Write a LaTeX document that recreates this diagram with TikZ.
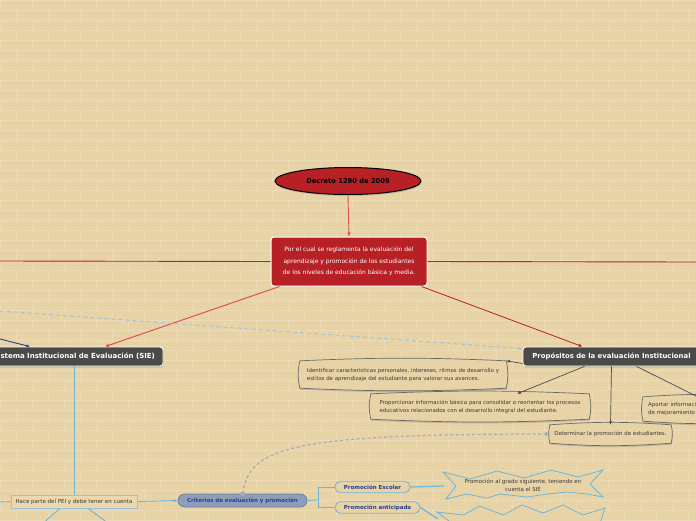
\documentclass[tikz,border=0pt]{standalone}
\usepackage{fontspec}
\setmainfont{DejaVu Sans}
\usetikzlibrary{shapes.geometric,shadows,arrows.meta}
\definecolor{bg}{HTML}{E8D3A7}
\definecolor{brick}{HTML}{EDDBB6}
\definecolor{dred}{HTML}{B72025}
\definecolor{lred}{HTML}{D9535A}
\definecolor{dgray}{HTML}{4A4A48}
\definecolor{lblue}{HTML}{6DB6DA}
\definecolor{dblue}{HTML}{2A3F8F}
\definecolor{gblue}{HTML}{8E9EB8}
\definecolor{gbline}{HTML}{6F7F99}
\definecolor{dashc}{HTML}{9DC3DA}
\definecolor{gdashc}{HTML}{A3ADB8}
\definecolor{txt}{HTML}{3A3A3A}
\definecolor{boxline}{HTML}{6A6A66}
\definecolor{hacefill}{HTML}{EBD8AE}
\pgfdeclarelayer{bricks}
\pgfdeclarelayer{background}
\pgfsetlayers{bricks,background,main}
\tikzset{
  ellnode/.style={ellipse, fill=dred, draw=black, line width=1pt, minimum width=146pt, minimum height=27pt, inner sep=0pt, font=\fontsize{6.7}{7}\selectfont\bfseries, drop shadow={opacity=0.35, shadow xshift=0.5pt, shadow yshift=-1.5pt}},
  rednode/.style={rectangle, rounded corners=3pt, fill=dred, draw=white, line width=1pt, text=white, align=center, minimum width=156pt, minimum height=49pt, inner sep=0pt, font=\fontsize{6}{11.3}\selectfont},
  darknode/.style={rectangle, rounded corners=3pt, fill=dgray, draw=white, line width=0.8pt, text=white, minimum height=19pt, inner sep=0pt, drop shadow={opacity=0.35, shadow xshift=0.5pt, shadow yshift=-1.5pt}},
  purp/.style={rectangle, inner sep=0pt, align=left, text=txt, font=\fontsize{5.45}{8}\selectfont},
  wavy/.style={draw=boxline, line width=0.7pt, fill=bg, drop shadow={opacity=0.35, shadow xshift=0.5pt, shadow yshift=-1.5pt}},
  hacenode/.style={rectangle, fill=hacefill, draw=dashc, line width=0.8pt, minimum width=126pt, minimum height=13pt, inner sep=0pt, text=txt, font=\fontsize{5.5}{6}\selectfont, drop shadow={opacity=0.3, shadow xshift=0.5pt, shadow yshift=-1.2pt}},
  critnode/.style={rectangle, rounded corners=6.5pt, fill=gblue, draw=gbline, line width=0.7pt, minimum width=129pt, minimum height=13pt, inner sep=0pt, text=dblue, font=\fontsize{5.45}{6}\selectfont\bfseries},
  pillnode/.style={rectangle, rounded corners=5.5pt, draw=lblue, line width=0.8pt, fill=bg, minimum height=11.5pt, inner sep=0pt, text=dblue, font=\fontsize{5.5}{6}\selectfont\bfseries},
  zignode/.style={inner sep=0pt, align=center, text=txt, font=\fontsize{5.5}{8}\selectfont},
  redarrow/.style={-{Latex[length=4pt,width=3.5pt]}},
  smallarrow/.style={-{Latex[length=3.5pt,width=3pt]}},
}
\begin{document}
\begin{tikzpicture}[x=1pt,y=-1pt]
\useasboundingbox (0,0) rectangle (696,520);
\clip (0,0) rectangle (696,520);
\begin{pgfonlayer}{bricks}
  \fill[bg] (0,0) rectangle (696,520);
  \foreach \r in {0,...,52}{
    \draw[brick, line width=0.6pt] (0,\r*10) -- (696,\r*10);
    \pgfmathsetmacro{\off}{mod(\r,2)*16}
    \foreach \c in {0,...,22}{
      \draw[brick, line width=0.6pt] (\c*32+\off,\r*10) -- (\c*32+\off,\r*10+10);
    }
  }
\end{pgfonlayer}

% main nodes
\node[ellnode] (dec) at (348,181) {Decreto 1290 de 2009};
\node[rednode] (red) at (349,261.5) {Por el cual se reglamenta la evaluación del\\aprendizaje y promoción de los estudiantes\\de los niveles de educación básica y media.};
\node[darknode, minimum width=178pt, font=\fontsize{7}{7}\selectfont\bfseries] (sie) at (74,356.5) {Sistema Institucional de Evaluación (SIE)};
\node[darknode, minimum width=177pt, font=\fontsize{6.9}{7}\selectfont\bfseries] (prop) at (611.5,356.5) {Propósitos de la evaluación Institucional};

% purpose boxes
\node[purp, minimum width=206pt, minimum height=27pt] (id) at (403,374.5) {Identificar características personales, intereses, ritmos de desarrollo y\\estilos de aprendizaje del estudiante para valorar sus avances.};
\node[purp, minimum width=218pt, minimum height=25pt] (pr) at (480,406.5) {Proporcionar información básica para consolidar o reorientar los procesos\\educativos relacionados con el desarrollo integral del estudiante.};
\node[purp, minimum width=121pt, minimum height=18pt] (de) at (610.5,434) {Determinar la promoción de estudiantes.};
\node[purp, text width=110pt, inner xsep=5pt, minimum height=24pt, anchor=west] (ap) at (643,409) {Aportar información para el ajuste\\de mejoramiento institucional.};

\begin{pgfonlayer}{background}
  \foreach \n/\bt/\bs in {id/2.5/12, pr/2.5/12, de/4/12, ap/4/12}{
    \path[wavy] (\n.north west) to[bend left=\bt] (\n.north east) to[bend left=\bs] (\n.south east) to[bend left=\bt] (\n.south west) to[bend left=\bs] (\n.north west) -- cycle;
  }
\end{pgfonlayer}

% lower nodes
\node[hacenode] (hace) at (74,501.5) {Hace parte del PEI y debe tener en cuenta};
\node[critnode] (crit) at (242.5,500.5) {Criterios de evaluación y promoción};
\node[pillnode, minimum width=75pt] (pe) at (372.5,487) {Promoción Escolar};
\node[pillnode, minimum width=85pt] (pa) at (377.5,507.5) {Promoción anticipada};
\node[zignode] (z1) at (523,485) {Promoción al grado siguiente, teniendo en\\cuenta el SIE};

\begin{pgfonlayer}{background}
  \path[draw=lblue, line width=0.8pt, fill=bg] (443,472) -- (470,479) -- (497,471) -- (524,478) -- (551,470) -- (578,477) -- (603,470) -- (590,484) -- (603,497) -- (587,494) -- (567,492) -- (547,494) -- (527,497) -- (500,494) -- (487,498) -- (467,494) -- (446,499) -- (456,486) -- cycle;
  \path[draw=lblue, line width=0.8pt, fill=bg] (437,512) -- (463,515) -- (480,506) -- (503,515) -- (522,505) -- (543,513) -- (563,505) -- (583,515) -- (605,508) -- (598,530) -- (445,530) -- (449,521) -- cycle;
\end{pgfonlayer}

% coordinates for free ends
\coordinate (Lred) at (0,261);
\coordinate (Rred) at (696,262);
\coordinate (Lblue) at (0,339);
\coordinate (Ldash) at (0,311);
\coordinate (Lhace) at (0,502);
\coordinate (B1) at (40,526);
\coordinate (B2) at (112,526);
\coordinate (br) at (318,500);
\coordinate (z1l) at (444,486);
\coordinate (z2l) at (438,519);
\coordinate (apR) at (700,398);

% connectors
\draw[lred, line width=0.9pt, redarrow] (dec.south) -- (red.north);
\draw[dred, line width=0.9pt] (red.west) -- (Lred);
\draw[dred, line width=0.9pt] (red.east) -- (Rred);
\draw[lred, line width=1pt, redarrow] ([xshift=9pt]red.south west) -- ([xshift=31pt]sie.north);
\draw[dred, line width=0.8pt, redarrow] ([xshift=-6pt]red.south east) -- ([xshift=-29pt]prop.north);
\draw[dblue, line width=0.9pt, smallarrow] (Lblue) -- ([xshift=-44pt]sie.north);
\draw[dashc, line width=0.9pt, dash pattern=on 4pt off 3pt, smallarrow] (Ldash) -- ([yshift=-2pt]prop.north west);

\draw[dgray, line width=0.7pt, smallarrow] ([yshift=-7pt]prop.west) -- (id.north east);
\draw[dgray, line width=0.7pt, smallarrow] ([xshift=-27pt]prop.south) -- ([xshift=37pt]pr.north);
\draw[dgray, line width=0.7pt, smallarrow] (prop.south) -- (de.north);
\draw[dgray, line width=0.7pt] ([xshift=25pt]prop.south) -- (apR);

\draw[lblue, line width=0.9pt] (sie.south) -- (hace.north);
\draw[lblue, line width=0.9pt] (hace.west) -- (Lhace);
\draw[lblue, line width=0.9pt] ([xshift=-14pt]hace.south) -- (B1);
\draw[lblue, line width=0.9pt] ([xshift=14pt]hace.south) -- (B2);
\draw[lblue, line width=0.9pt, smallarrow] (hace.east) -- (crit.west);

\draw[gdashc, line width=1.2pt, dash pattern=on 3pt off 2.5pt, -{Latex[length=4.5pt,width=5pt]}] (crit.north) .. controls (250,448) and (285,434) .. (de.west);
\fill[gdashc] (crit.north) circle (2.5pt);

\draw[lblue, line width=0.8pt] (crit.east) -- (br);
\draw[lblue, line width=0.8pt] (pe.west) -| (br);
\draw[lblue, line width=0.8pt] (pa.west) -| (br);
\draw[lblue, line width=1.2pt] (pe.east) -- (z1l);
\draw[lblue, line width=1.2pt] (pa.east) -- (z2l);
\end{tikzpicture}
\end{document}
